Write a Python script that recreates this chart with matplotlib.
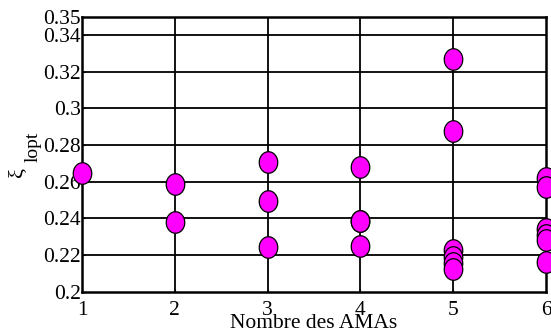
import matplotlib
matplotlib.use("Agg")
import matplotlib.pyplot as plt
import numpy as np
from matplotlib.path import Path

plt.rcParams['font.family'] = ['Liberation Serif', 'DejaVu Serif']

# data
n_amas = [1, 2, 3, 4, 5, 6]
xi_by_n = {
    1: [0.265],
    2: [0.259, 0.238],
    3: [0.2705, 0.2495, 0.2245],
    4: [0.268, 0.2387, 0.2383, 0.225],
    5: [0.327, 0.2875, 0.2225, 0.219, 0.2155, 0.2125],
    6: [0.262, 0.257, 0.234, 0.231, 0.228, 0.216],
}
yticks = [0.2, 0.22, 0.24, 0.26, 0.28, 0.3, 0.32, 0.34, 0.35]
ytick_labels = ['0.2', '0.22', '0.24', '0.26', '0.28', '0.3', '0.32', '0.34', '0.35']

W, H = 551, 333
fig = plt.figure(figsize=(W/100, H/100), dpi=100)
ax = fig.add_axes([82/W, 1-291.7/H, (546-82)/W, (291.7-16.7)/H])

# ellipse marker (slightly taller than wide)
t = np.linspace(0, 2*np.pi, 60)
ell = Path(np.column_stack([0.86*np.cos(t), np.sin(t)]), closed=True)

xs = []
ys = []
for n in n_amas:
    for v in xi_by_n[n]:
        xs.append(n)
        ys.append(v)

ax.set_xlim(1, 6)
ax.set_ylim(0.2, 0.35)
ax.set_xticks(n_amas)
ax.set_xticklabels([str(n) for n in n_amas])
ax.set_yticks(yticks)
ax.set_yticklabels(ytick_labels)

for yv in yticks[1:-1]:
    ax.axhline(yv, color='black', lw=1.3, zorder=1)
for xv in n_amas[1:-1]:
    ax.axvline(xv, color='black', lw=1.3, zorder=1)

ax.plot(xs, ys, linestyle='none', marker=ell, markersize=15.5,
        markerfacecolor='#ff00ff', markeredgecolor='black',
        markeredgewidth=0.9, clip_on=False, zorder=3)

for s in ax.spines.values():
    s.set_linewidth(1.8)
ax.tick_params(direction='in', length=2, labelsize=15.5, pad=1)
ax.tick_params(axis='x', pad=7)

ax.set_xlabel('Nombre des AMAs', fontsize=15.5)
ax.xaxis.set_label_coords(0.5, (291.7-314)/275.0)

# y label: xi with subscript "lopt"
fig.text(18/W, 1-172/H, 'ξ', fontsize=16, rotation=90, ha='center', va='center')
fig.text(33/W, 1-147/H, 'lopt', fontsize=14, rotation=90, ha='center', va='center')

fig.savefig('out.png', dpi=100)
